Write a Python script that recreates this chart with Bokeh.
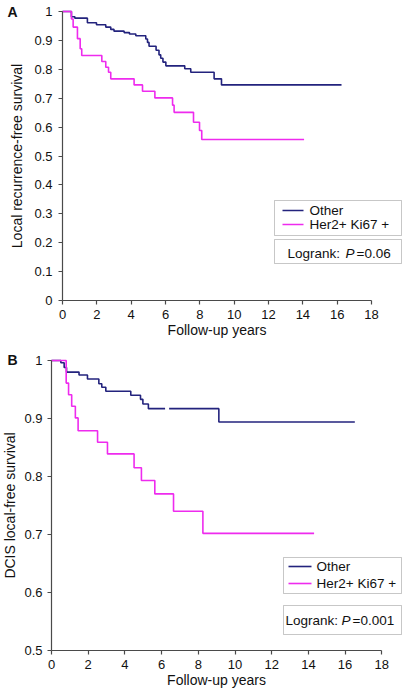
import math
from bokeh.plotting import figure
from bokeh.models import Range1d, FixedTicker, BoxAnnotation, Label, Arrow
from bokeh.layouts import column
from bokeh.embed import file_html
from bokeh.resources import INLINE

# ---------------- data ----------------
series_names = ["Other", "Her2+ Ki67 +"]
x_ticks = [0, 2, 4, 6, 8, 10, 12, 14, 16, 18]

# Panel A: local recurrence-free survival
a_other_t = [0, 0.52, 0.72, 1.45, 1.98, 2.52, 2.81, 3.0, 3.59, 3.9, 4.27, 4.85, 4.95, 5.04,
             5.45, 5.62, 5.72, 5.85, 6.02, 7.12, 7.47, 8.83, 9.26, 16.25]
a_other_s = [1.0, 0.982, 0.977, 0.961, 0.954, 0.946, 0.938, 0.932, 0.927, 0.922, 0.916, 0.905, 0.893, 0.88,
             0.866, 0.85, 0.838, 0.825, 0.812, 0.802, 0.79, 0.767, 0.746, 0.746]
a_her2_t = [0, 0.52, 0.62, 0.87, 1.03, 1.12, 2.29, 2.52, 2.68, 2.81, 4.17, 4.66, 5.38, 6.41, 6.5,
            7.63, 7.98, 8.11, 14.07]
a_her2_s = [1.0, 0.974, 0.946, 0.906, 0.871, 0.848, 0.827, 0.807, 0.79, 0.767, 0.746, 0.724, 0.701, 0.676, 0.651,
            0.617, 0.588, 0.557, 0.557]
a_y_ticks = [0, 0.1, 0.2, 0.3, 0.4, 0.5, 0.6, 0.7, 0.8, 0.9, 1]
a_y_labels = ["0", "0.1", "0.2", "0.3", "0.4", "0.5", "0.6", "0.7", "0.8", "0.9", "1"]
a_pvalue = "=0.06"

# Panel B: DCIS local-free survival
b_other_t = [0, 0.51, 0.69, 0.82, 1.5, 1.96, 2.58, 2.74, 2.96, 4.32, 4.85, 4.98, 5.28, 9.12, 16.53]
b_other_s = [1.0, 0.996, 0.988, 0.980, 0.975, 0.968, 0.960, 0.954, 0.947, 0.940, 0.933, 0.925, 0.917, 0.894, 0.894]
b_other_gap = (6.19, 6.41)
b_her2_t = [0, 0.8, 0.93, 1.1, 1.3, 1.45, 2.51, 3.05, 4.5, 4.9, 5.63, 6.65, 8.25, 14.31]
b_her2_s = [1.0, 0.961, 0.941, 0.921, 0.901, 0.879, 0.859, 0.839, 0.815, 0.793, 0.770, 0.740, 0.702, 0.702]
b_y_ticks = [0.5, 0.6, 0.7, 0.8, 0.9, 1]
b_y_labels = ["0.5", "0.6", "0.7", "0.8", "0.9", "1"]
b_pvalue = "=0.001"

# ---------------- style ----------------
FONT = "Liberation Sans"
NAVY = "#23237d"
MAGENTA = "#ee2bee"
AXIS = "#4a4a4a"
BOX = "#444444"
W = 402


def step_path(t, s, gap=None):
    xs, ys = [t[0]], [s[0]]
    for i in range(1, len(t)):
        if gap is not None and t[i - 1] < gap[0] < t[i]:
            xs += [gap[0], math.nan, gap[1]]
            ys += [s[i - 1], math.nan, s[i - 1]]
        xs += [t[i], t[i]]
        ys += [s[i - 1], s[i]]
    return xs, ys


def make_panel(height, x0_px, px_per_year, y_lo, y_hi, y_lo_px, y_hi_px,
               y_ticks, y_labels, y_title, y_label_standoff, y_title_standoff):
    # frame covers the whole canvas; axes are drawn at fixed data locations
    upp = (y_hi - y_lo) / (y_lo_px - y_hi_px)  # data units per pixel (vertical)
    y_end = y_hi + y_hi_px * upp
    y_start = y_lo - (height - y_lo_px) * upp
    x_start = -x0_px / px_per_year
    x_end = (W - x0_px) / px_per_year
    p = figure(width=W, height=height, output_backend="svg", toolbar_location=None,
               x_range=Range1d(x_start, x_end), y_range=Range1d(y_start, y_end),
               min_border=0)
    p.outline_line_color = None
    p.xgrid.visible = False
    p.ygrid.visible = False
    p.background_fill_color = "white"
    p.border_fill_color = "white"
    for ax in (p.xaxis[0], p.yaxis[0]):
        ax.axis_line_color = AXIS
        ax.axis_line_width = 1.2
        ax.major_tick_line_color = AXIS
        ax.major_tick_line_width = 1.2
        ax.major_tick_in = 0
        ax.major_tick_out = 4
        ax.minor_tick_line_color = None
        ax.major_label_text_font = FONT
        ax.major_label_text_font_size = "13px"
        ax.major_label_text_color = "#111111"
        ax.axis_label_text_font = FONT
        ax.axis_label_text_font_size = "14px"
        ax.axis_label_text_font_style = "normal"
        ax.axis_label_text_color = "#111111"
    p.xaxis.ticker = FixedTicker(ticks=x_ticks)
    p.xaxis.bounds = (0, 18)
    p.xaxis.fixed_location = y_lo
    p.xaxis.axis_label = "Follow-up years"
    p.xaxis.major_label_standoff = 5
    p.xaxis.axis_label_standoff = 0
    p.yaxis.ticker = FixedTicker(ticks=y_ticks)
    p.yaxis.major_label_overrides = {float(k): v for k, v in zip(y_ticks, y_labels)}
    p.yaxis.bounds = (y_lo, y_hi)
    p.yaxis.fixed_location = 0
    p.yaxis.axis_label = y_title
    p.yaxis.major_label_standoff = y_label_standoff
    p.yaxis.axis_label_standoff = y_title_standoff
    return p


def add_curves(p, other_t, other_s, her2_t, her2_s, gap=None):
    xo, yo = step_path(other_t, other_s, gap)
    xh, yh = step_path(her2_t, her2_s)
    p.line(xo, yo, line_color=NAVY, line_width=1.6)
    p.line(xh, yh, line_color=MAGENTA, line_width=1.6)


def screen_box(p, l, r, t, b):
    p.add_layout(BoxAnnotation(left=l, right=r, top=t, bottom=b,
                               left_units="screen", right_units="screen",
                               top_units="screen", bottom_units="screen",
                               fill_color="white", fill_alpha=1, line_color=BOX, line_width=1))


def add_legend(p, box, line_x, rows_y, text_x, lr_box, lr_y, lr_x, pval, letter, letter_xy):
    screen_box(p, *box)
    for name, color, yy in zip(series_names, [NAVY, MAGENTA], rows_y):
        p.add_layout(Arrow(end=None, x_start=line_x[0], x_end=line_x[1], y_start=yy, y_end=yy,
                           start_units="screen", end_units="screen",
                           line_color=color, line_width=1.6))
        p.add_layout(Label(x=text_x, y=yy, x_units="screen", y_units="screen", text=name,
                           text_font=FONT, text_font_size="13.5px", text_color="#111111",
                           text_baseline="middle", text_align="left"))
    screen_box(p, *lr_box)
    for txt, xx, style in zip(["Logrank:", "P", pval], lr_x, ["normal", "italic", "normal"]):
        p.add_layout(Label(x=xx, y=lr_y, x_units="screen", y_units="screen", text=txt,
                           text_font=FONT, text_font_size="13.5px", text_color="#111111",
                           text_font_style=style, text_baseline="middle", text_align="left"))
    p.add_layout(Label(x=letter_xy[0], y=letter_xy[1], x_units="screen", y_units="screen",
                       text=letter, text_font=FONT, text_font_size="14px", text_font_style="bold",
                       text_color="#111111", text_baseline="top", text_align="left"))


# Panel A: canvas page y 0..343; y=0 axis at y 300, y=1 at y 11; x=0 at x 62
HA = 343
pa = make_panel(height=HA, x0_px=62, px_per_year=17.17, y_lo=0, y_hi=1,
                y_lo_px=300, y_hi_px=11, y_ticks=a_y_ticks, y_labels=a_y_labels,
                y_title="Local recurrence-free survival", y_label_standoff=6, y_title_standoff=6)
add_curves(pa, a_other_t, a_other_s, a_her2_t, a_her2_s)
add_legend(pa, box=(274, 401, HA - 200, HA - 235), line_x=(282, 303), rows_y=(HA - 210, HA - 224),
           text_x=309, lr_box=(274, 401, HA - 239, HA - 263), lr_y=HA - 253,
           lr_x=(287, 345, 356), pval=a_pvalue, letter="A", letter_xy=(7, HA - 3.5))

# Panel B: canvas page y 343..689; y=0.5 at page 650, y=1 at page 360; x=0 at x 51
HB = 346
TOPB = HA
pb = make_panel(height=HB, x0_px=51, px_per_year=18.35, y_lo=0.5, y_hi=1,
                y_lo_px=650 - TOPB, y_hi_px=360 - TOPB, y_ticks=b_y_ticks, y_labels=b_y_labels,
                y_title="DCIS local-free survival", y_label_standoff=5, y_title_standoff=3)
add_curves(pb, b_other_t, b_other_s, b_her2_t, b_her2_s, gap=b_other_gap)
BOT = TOPB + HB
add_legend(pb, box=(283, 401, BOT - 557, BOT - 593), line_x=(288, 311), rows_y=(BOT - 566, BOT - 583),
           text_x=316, lr_box=(283, 401, BOT - 605, BOT - 634), lr_y=BOT - 619.5,
           lr_x=(285, 341, 352), pval=b_pvalue, letter="B", letter_xy=(7, BOT - 351))

layout = column(pa, pb, spacing=0)
open("out.html", "w").write(file_html(layout, INLINE))
